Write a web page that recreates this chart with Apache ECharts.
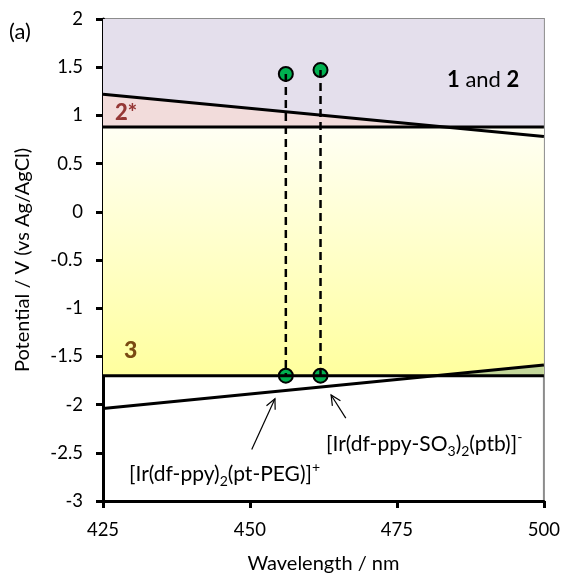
<!DOCTYPE html>
<html>
<head>
<meta charset="utf-8" />
<title>Potential windows</title>
<script src="https://cdn.jsdelivr.net/npm/echarts@6/dist/echarts.min.js"></script>
<style>html,body{margin:0;padding:0;background:#fff;}</style>
</head>
<body>
<div id="main" style="width:563px;height:579px;"></div>
<script type="text/javascript">
// axis ranges and ticks
var xRange = [425, 500];
var yRange = [-3, 2];
var xTicks = [425, 450, 475, 500];
var yTicks = [-3, -2.5, -2, -1.5, -1, -0.5, 0, 0.5, 1, 1.5, 2];

// window boundaries (values at 425 and 500 nm)
var upperSlope = [1.22, 0.78];
var upperFlat = 0.88;
var lowerFlat = -1.70;
var lowerSlope = [-2.04, -1.59];

// the two complexes: wavelength, oxidation and reduction potentials
var complexX = [456.1, 462.0];
var complexOx = [1.43, 1.47];
var complexRed = [-1.70, -1.70];

// annotation arrows (tail -> head)
var arrowTail = [[450.3, -2.465], [466.3, -2.14]];
var arrowHead = [[454.25, -1.94], [463.8, -1.90]];

var FONT = 'Lato';
var x0 = xRange[0], x1 = xRange[1];

function crossX(a, b, level) {
	return x0 + (level - a) / (b - a) * (x1 - x0);
}
var xi1 = crossX(upperSlope[0], upperSlope[1], upperFlat);
var xi2 = crossX(lowerSlope[0], lowerSlope[1], lowerFlat);

var regions = [
	{ fill: '#e4dfec', pts: [[x0, yRange[1]], [x1, yRange[1]], [x1, upperSlope[1]], [x0, upperSlope[0]]] },
	{ fill: '#f2dcdb', pts: [[x0, upperSlope[0]], [xi1, upperFlat], [x0, upperFlat]] },
	{ fill: '#d6e3f3', pts: [[xi1, upperFlat], [x1, upperFlat], [x1, upperSlope[1]]] },
	{ fill: new echarts.graphic.LinearGradient(0, 0, 0, 1, [
		{ offset: 0, color: '#fffff4' }, { offset: 1, color: '#ffff9e' }]),
	  pts: [[x0, upperFlat], [x1, upperFlat], [x1, lowerFlat], [x0, lowerFlat]] },
	{ fill: '#c4d79b', pts: [[xi2, lowerFlat], [x1, lowerSlope[1]], [x1, lowerFlat]] }
];

function solidLine(data) {
	return {
		type: 'line', data: data, showSymbol: false, silent: true,
		lineStyle: { color: '#000', width: 3 }
	};
}

var series = [
	{
		type: 'custom',
		silent: true,
		data: regions.map(function (r) { return r.pts[0]; }),
		renderItem: function (params, api) {
			var r = regions[params.dataIndex];
			return {
				type: 'polygon',
				shape: { points: r.pts.map(function (p) { return api.coord(p); }) },
				style: { fill: r.fill }
			};
		}
	},
	solidLine([[x0, upperSlope[0]], [x1, upperSlope[1]]]),
	solidLine([[x0, upperFlat], [x1, upperFlat]]),
	solidLine([[x0, lowerFlat], [x1, lowerFlat]]),
	solidLine([[x0, lowerSlope[0]], [x1, lowerSlope[1]]])
];

complexX.forEach(function (x, i) {
	series.push({
		type: 'line', showSymbol: false, silent: true,
		data: [[x, complexOx[i]], [x, complexRed[i]]],
		lineStyle: { color: '#000', width: 2.5, type: [8, 5] }
	});
});

series.push({
	type: 'scatter',
	silent: true,
	symbolSize: 14,
	itemStyle: { color: '#00b050', borderColor: '#000', borderWidth: 2, opacity: 1 },
	data: complexX.map(function (x, i) { return [x, complexOx[i]]; })
		.concat(complexX.map(function (x, i) { return [x, complexRed[i]]; }))
});

// open-headed arrows
series.push({
	type: 'custom',
	silent: true,
	data: arrowHead,
	renderItem: function (params, api) {
		var t = api.coord(arrowTail[params.dataIndex]);
		var h = api.coord(arrowHead[params.dataIndex]);
		var dx = h[0] - t[0], dy = h[1] - t[1];
		var len = Math.sqrt(dx * dx + dy * dy);
		dx /= len; dy /= len;
		var L = 11, a = Math.PI / 7;
		function rot(ang) {
			var c = Math.cos(ang), s = Math.sin(ang);
			return [h[0] - L * (dx * c - dy * s), h[1] - L * (dx * s + dy * c)];
		}
		return {
			type: 'group',
			children: [
				{ type: 'line', shape: { x1: t[0], y1: t[1], x2: h[0], y2: h[1] },
				  style: { stroke: '#000', lineWidth: 1.2 } },
				{ type: 'polyline', shape: { points: [rot(a), h, rot(-a)] },
				  style: { stroke: '#000', lineWidth: 1.2, fill: null } }
			]
		};
	}
});

var labelRich = {
	n: { fontFamily: FONT, fontSize: 21, color: '#000', lineHeight: 28 },
	s: { fontFamily: FONT, fontSize: 14, color: '#000', lineHeight: 14, verticalAlign: 'bottom' },
	p: { fontFamily: FONT, fontSize: 14, color: '#000', lineHeight: 14, verticalAlign: 'top' }
};

var myChart = echarts.init(document.getElementById('main'));
myChart.setOption({
	animation: false,
	grid: {
		left: 103, right: 18, top: 19, bottom: 74,
		show: true, borderColor: '#8c8c8c', borderWidth: 2, backgroundColor: 'transparent'
	},
	xAxis: {
		type: 'value', min: xRange[0], max: xRange[1], interval: xTicks[1] - xTicks[0],
		name: 'Wavelength / nm', nameLocation: 'middle', nameGap: 53,
		nameTextStyle: { fontFamily: FONT, fontSize: 20, color: '#000' },
		axisLine: { onZero: false, lineStyle: { color: '#000', width: 3 } },
		axisTick: { length: 7, lineStyle: { color: '#000', width: 3 } },
		axisLabel: { margin: 20, fontFamily: FONT, fontSize: 18.5, color: '#000' },
		splitLine: { show: false }
	},
	yAxis: {
		type: 'value', min: yRange[0], max: yRange[1], interval: yTicks[1] - yTicks[0],
		name: 'Potential / V (vs Ag/AgCl)', nameLocation: 'middle', nameGap: 70,
		nameTextStyle: { fontFamily: FONT, fontSize: 20, color: '#000' },
		axisLine: { onZero: false, lineStyle: { color: '#000', width: 3 } },
		axisTick: { length: 7, lineStyle: { color: '#000', width: 3 } },
		axisLabel: { margin: 20, fontFamily: FONT, fontSize: 18.5, color: '#000' },
		splitLine: { show: false }
	},
	series: series,
	graphic: [
		{ type: 'text', left: 9, top: 21, z: 100,
		  style: { text: '(a)', fontFamily: FONT, fontSize: 22, fill: '#000' } },
		{ type: 'text', left: 115, top: 102, z: 100,
		  style: { text: '2*', fontFamily: FONT, fontSize: 22, fontWeight: 900, fill: '#953735' } },
		{ type: 'text', left: 124, top: 339, z: 100,
		  style: { text: '3', fontFamily: FONT, fontSize: 23, fontWeight: 900, fill: '#7a4a12' } },
		{ type: 'text', left: 447, top: 69, z: 100,
		  style: {
			text: '{b|1}{r| and }{b|2}',
			rich: {
				b: { fontFamily: FONT, fontSize: 22, fontWeight: 'bold', color: '#403152' },
				r: { fontFamily: FONT, fontSize: 22, color: '#403152' }
			}
		  } },
		{ type: 'text', left: 129, top: 460, z: 100,
		  style: { text: '{n|[Ir(df-ppy)}{s|2}{n|(pt-PEG)]}{p|+}', rich: labelRich } },
		{ type: 'text', left: 326, top: 430, z: 100,
		  style: { text: '{n|[Ir(df-ppy-SO}{s|3}{n|)}{s|2}{n|(ptb)]}{p|-}', rich: labelRich } }
	]
});
</script>
</body>
</html>
